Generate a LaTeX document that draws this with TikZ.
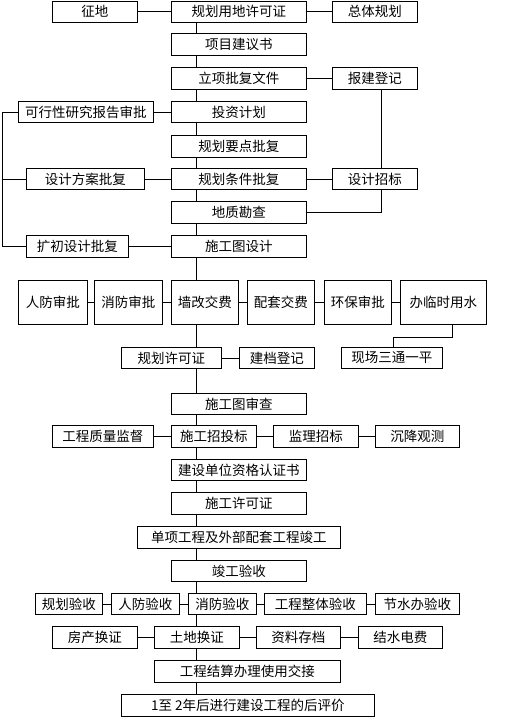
\documentclass[tikz,border=0pt]{standalone}
\usepackage{fontspec}
\newfontfamily\cjk{Noto Sans CJK SC}
\begin{document}
\begin{tikzpicture}[x=1pt,y=-1pt,
  box/.style={draw=black,line width=0.8pt,fill=white,inner sep=0pt,anchor=north west,
    font=\cjk\fontsize{13.5pt}{15pt}\selectfont,text=black},
  conn/.style={draw=black,line width=0.8pt}]
\useasboundingbox (0,0) rectangle (512,718);
\coordinate (mx) at (196,0);
\coordinate (lx) at (2,0);
\coordinate (rx) at (381,0);
\coordinate (bx) at (452,0);
\coordinate (cx) at (393,0);
% nodes: minimum width, minimum height
\def\B#1#2#3#4#5#6{\node[box,minimum width=#4pt,minimum height=#5pt] (#1) at (#2,#3) {#6};}
\B{zd}{52}{0.5}{85}{21.5}{征地}
\B{ghyd}{171}{0.5}{135}{21.5}{规划用地许可证}
\B{ztgh}{332}{0.5}{85}{21.5}{总体规划}
\B{xmjy}{171}{33}{135}{22}{项目建议书}
\B{lxpf}{171}{67}{135}{22}{立项批复文件}
\B{bjdj}{332}{67}{85}{22}{报建登记}
\B{kxx}{18}{101}{135}{21}{可行性研究报告审批}
\B{tzjh}{171}{101}{135}{21}{投资计划}
\B{ghyd2}{171}{135}{135}{22}{规划要点批复}
\B{sjfa}{26}{168}{118}{21}{设计方案批复}
\B{ghtj}{171}{168}{135}{21}{规划条件批复}
\B{sjzb}{332}{168}{85}{21}{设计招标}
\B{dzkc}{171}{201}{135}{22}{地质勘查}
\B{kcsj}{26}{235}{102}{22}{扩初设计批复}
\B{sgtsj}{171}{235}{135}{22}{施工图设计}
\B{rfsp}{18}{280}{69}{44}{人防审批}
\B{xfsp}{94}{280}{68}{44}{消防审批}
\B{qgjf}{171}{280}{67}{44}{墙改交费}
\B{ptjf}{247}{280}{67}{44}{配套交费}
\B{hbsp}{324}{280}{67}{44}{环保审批}
\B{blsys}{400}{280}{86}{44}{办临时用水}
\B{ghxk}{121}{347}{100}{21}{规划许可证}
\B{jddj}{239}{347}{75}{21}{建档登记}
\B{xcst}{341}{347}{101}{21}{现场三通一平}
\B{sgtsc}{171}{393}{135}{21}{施工图审查}
\B{gczl}{52}{425}{101}{22}{工程质量监督}
\B{sgzt}{171}{425}{85}{22}{施工招投标}
\B{jlzb}{273}{425}{85}{22}{监理招标}
\B{cjgc}{375}{425}{84}{22}{沉降观测}
\B{jsdw}{171}{459}{135}{21}{建设单位资格认证书}
\B{sgxk}{171}{492}{135}{22}{施工许可证}
\B{dxgc}{137}{526}{203}{22}{单项工程及外部配套工程竣工}
\B{jgys}{171}{560}{135}{21}{竣工验收}
\B{ghys}{35}{593}{67}{21}{规划验收}
\B{rfys}{111}{593}{68}{21}{人防验收}
\B{xfys}{188}{593}{68}{21}{消防验收}
\B{gczt}{264}{593}{102}{21}{工程整体验收}
\B{jsb}{375}{593}{84}{21}{节水办验收}
\B{fczz}{52}{626}{85}{22}{房产换证}
\B{tdhz}{154}{626}{85}{22}{土地换证}
\B{zlcd}{256}{626}{84}{22}{资料存档}
\B{jsdf}{358}{626}{84}{22}{结水电费}
\B{gcjs}{154}{660}{186}{22}{工程结算办理使用交接}
\B{hpj}{121}{694}{253}{22}{1至 2年后进行建设工程的后评价}
% main trunk
\foreach \a/\b in {ghyd/xmjy,xmjy/lxpf,lxpf/tzjh,tzjh/ghyd2,ghyd2/ghtj,ghtj/dzkc,dzkc/sgtsj,
  sgtsj/qgjf,qgjf/ghxk,ghxk/sgtsc,sgtsc/sgzt,sgzt/jsdw,jsdw/sgxk,sgxk/dxgc,dxgc/jgys,
  jgys/xfys,xfys/tdhz,tdhz/gcjs,gcjs/hpj}
  \draw[conn] (\a.south -| mx) -- (\b.north -| mx);
% horizontal links
\foreach \a/\b in {zd/ghyd,ghyd/ztgh,lxpf/bjdj,kxx/tzjh,sjfa/ghtj,ghtj/sjzb,kcsj/sgtsj,
  rfsp/xfsp,xfsp/qgjf,qgjf/ptjf,ptjf/hbsp,hbsp/blsys,ghxk/jddj,
  gczl/sgzt,sgzt/jlzb,jlzb/cjgc,ghys/rfys,rfys/xfys,xfys/gczt,gczt/jsb,
  fczz/tdhz,tdhz/zlcd,zlcd/jsdf}
  \draw[conn] (\a.east) -- (\b.west);
% left bracket
\draw[conn] (kxx.west) -- (kxx.west -| lx) -- (kcsj.west -| lx) -- (kcsj.west);
\draw[conn] (sjfa.west) -- (sjfa.west -| lx);
% right side
\draw[conn] (bjdj.south -| rx) -- (sjzb.north -| rx);
\draw[conn] (sjzb.south -| rx) |- (dzkc.east);
\draw[conn] (blsys.south -| bx) -- ++(0,13) -| (xcst.north -| cx);
\end{tikzpicture}
\end{document}
